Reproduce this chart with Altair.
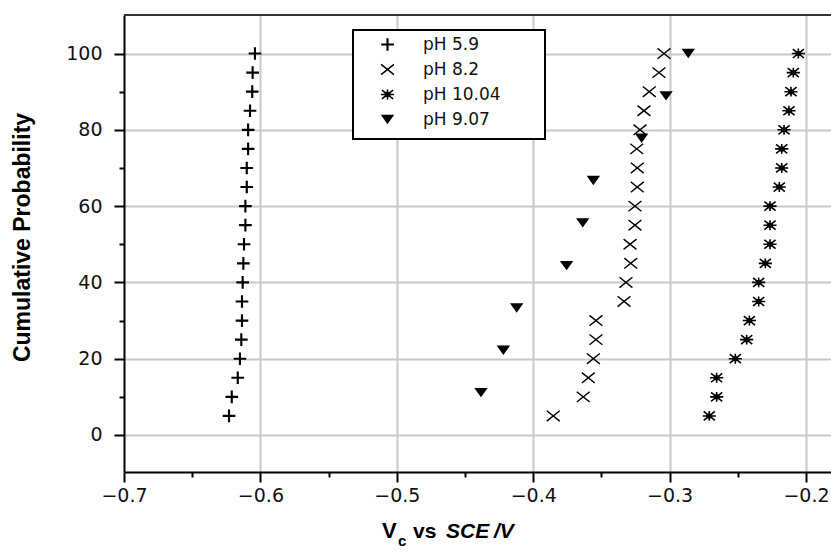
import altair as alt
import pandas as pd

# Cumulative probability (%) levels
prob_20 = [5, 10, 15, 20, 25, 30, 35, 40, 45, 50, 55, 60, 65, 70, 75, 80, 85, 90, 95, 100]
prob_9 = [11.1, 22.2, 33.3, 44.4, 55.6, 66.7, 77.8, 88.9, 100]

# Critical potential Vc (V vs SCE) for each pH
v_ph59 = [-0.623, -0.621, -0.6166, -0.615, -0.614, -0.6135, -0.6135, -0.613, -0.6125, -0.612,
          -0.611, -0.611, -0.610, -0.610, -0.609, -0.609, -0.6076, -0.606, -0.6057, -0.604]
v_ph82 = [-0.3853, -0.3633, -0.3596, -0.3559, -0.354, -0.354, -0.3334, -0.332, -0.3285, -0.329,
          -0.3254, -0.3254, -0.3237, -0.3237, -0.3241, -0.3217, -0.3188, -0.3149, -0.3078, -0.3041]
v_ph1004 = [-0.2709, -0.2655, -0.2655, -0.2518, -0.2435, -0.2415, -0.2347, -0.2347, -0.2298, -0.2264,
            -0.2264, -0.2264, -0.2196, -0.2178, -0.2178, -0.2161, -0.2125, -0.211, -0.2093, -0.2056]
v_ph907 = [-0.4383, -0.4219, -0.4121, -0.3755, -0.3637, -0.3559, -0.3205, -0.3026, -0.2863]

series_order = ["pH 5.9", "pH 8.2", "pH 10.04", "pH 9.07"]

x_ticks = [-0.7, -0.65, -0.6, -0.55, -0.5, -0.45, -0.4, -0.35, -0.3, -0.25, -0.2]
y_ticks = [0, 10, 20, 30, 40, 50, 60, 70, 80, 90, 100]

frames = []
for name, probs, vals in [
    ("pH 5.9", prob_20, v_ph59),
    ("pH 8.2", prob_20, v_ph82),
    ("pH 10.04", prob_20, v_ph1004),
    ("pH 9.07", prob_9, v_ph907),
]:
    frames.append(pd.DataFrame({"series": name, "p": probs, "v": vals}))
df = pd.concat(frames, ignore_index=True)


def bars(segments, half):
    """Filled outline of thin bars along the given unit-space segments."""
    parts = []
    for (x1, y1), (x2, y2) in segments:
        dx, dy = x2 - x1, y2 - y1
        n = (dx * dx + dy * dy) ** 0.5
        nx, ny = -dy / n * half, dx / n * half
        pts = [(x1 + nx, y1 + ny), (x2 + nx, y2 + ny), (x2 - nx, y2 - ny), (x1 - nx, y1 - ny)]
        parts.append("M" + "L".join(f"{px:.3f},{py:.3f}" for px, py in pts) + "Z")
    return "".join(parts)


# marker glyphs drawn as filled shapes in unit coordinates
# (all sub-shapes share one winding direction so overlaps stay filled)
plus_path = bars([((-1, 0), (1, 0)), ((0, -1), (0, 1))], 0.17)
cross_path = bars([((-1, -0.8), (1, 0.8)), ((-1, 0.8), (1, -0.8))], 0.11)
star_path = bars([((-1, 0), (1, 0)), ((0, -0.75), (0, 0.75)),
                  ((-0.85, -0.68), (0.85, 0.68)), ((-0.85, 0.68), (0.85, -0.68))], 0.12) + \
    bars([((-0.45, 0), (0.45, 0))], 0.38)
tri_path = "M-1,-0.7L1,-0.7L0,0.7Z"

W, H = 707, 457
LABEL_FONT = "DejaVu Sans"

x_scale = alt.Scale(domain=[-0.7, -0.7 + W / 1364], nice=False, zero=False)
y_scale = alt.Scale(domain=[-9.7, 110.1], nice=False, zero=False)

x_minor = "abs(round(datum.value * 100)) % 10 !== 0"
y_minor = "datum.value % 20 !== 0"

x_axis = alt.Axis(
    values=x_ticks, format=".1f", title=None, labelFlush=False,
    labelExpr=f"{x_minor} ? '' : datum.label",
    labelFont=LABEL_FONT, labelFontSize=19, labelColor="#111", labelPadding=4,
    domainColor="black", domainWidth=2,
    tickColor="black", tickWidth=2, tickSize=10,
    tickDash={"condition": {"test": x_minor, "value": [5, 30]}, "value": [20, 0]},
    grid=True, gridColor="#c8c8c8", gridWidth=2,
    gridOpacity={"condition": {"test": f"{x_minor} || datum.value < -0.69", "value": 0}, "value": 1},
)
y_axis = alt.Axis(
    values=y_ticks, title="Cumulative Probability", labelFlush=False,
    labelExpr=f"{y_minor} ? '' : datum.label",
    labelFont=LABEL_FONT, labelFontSize=19, labelColor="#111", labelPadding=12,
    domainColor="black", domainWidth=2,
    tickColor="black", tickWidth=2, tickSize=10,
    tickDash={"condition": {"test": y_minor, "value": [5, 30]}, "value": [20, 0]},
    grid=True, gridColor="#c8c8c8", gridWidth=2,
    gridOpacity={"condition": {"test": y_minor, "value": 0}, "value": 1},
    titleFont="Liberation Sans", titleFontWeight="bold", titleFontSize=23, titleColor="black",
    titleAngle=-90, titleX=-102, titleY=222, titleAlign="center", titleBaseline="middle",
)

legend = alt.Legend(
    title=None, orient="none", legendX=229, legendY=15,
    padding=6, symbolOffset=20, labelOffset=27, rowPadding=7,
    labelFont=LABEL_FONT, labelFontSize=17, labelColor="#111",
    symbolFillColor="black", symbolStrokeWidth=0,
)

points = alt.Chart(df).mark_point(
    filled=True, color="black", strokeWidth=0, opacity=1
).encode(
    x=alt.X("v:Q", scale=x_scale, axis=x_axis),
    y=alt.Y("p:Q", scale=y_scale, axis=y_axis),
    shape=alt.Shape("series:N", scale=alt.Scale(domain=series_order,
                    range=[plus_path, cross_path, star_path, tri_path]), legend=legend),
    size=alt.Size("series:N", scale=alt.Scale(domain=series_order,
                  range=[160, 180, 300, 400]), legend=legend),
)

one = pd.DataFrame({"k": [0]})

# frame along the top of the plot
top_border = alt.Chart(one).mark_rule(color="#333", strokeWidth=2).encode(
    x=alt.value(0), x2=alt.value(W), y=alt.value(0)
)

# white box behind the legend entries
legend_box = alt.Chart(one).mark_rect(fill="white", stroke="black", strokeWidth=2).encode(
    x=alt.value(229), x2=alt.value(421), y=alt.value(15), y2=alt.value(124)
)

# x-axis title: V_c vs SCE/V
title_parts = [
    ("V", 258, 523, 22, "normal"),
    ("c", 274, 531, 15, "normal"),
    ("vs", 289, 523, 21, "normal"),
    ("SCE", 322, 523, 21, "italic"),
    ("/V", 370, 523, 21, "italic"),
]
title_layers = []
for txt, px, py, fs, style in title_parts:
    title_layers.append(
        alt.Chart(pd.DataFrame({"t": [txt]})).mark_text(
            align="left", baseline="alphabetic", font="Liberation Sans",
            fontWeight="bold", fontSize=fs, fontStyle=style, color="black"
        ).encode(x=alt.value(px), y=alt.value(py), text="t:N")
    )

chart = alt.layer(legend_box, points, top_border, *title_layers).properties(
    width=W, height=H,
    autosize=alt.AutoSizeParams(type="none"),
    padding={"left": 124, "top": 15, "right": 0, "bottom": 80},
    background="white",
).configure_view(stroke=None)

chart.save("out.html", embed_options={"renderer": "svg", "actions": False})
